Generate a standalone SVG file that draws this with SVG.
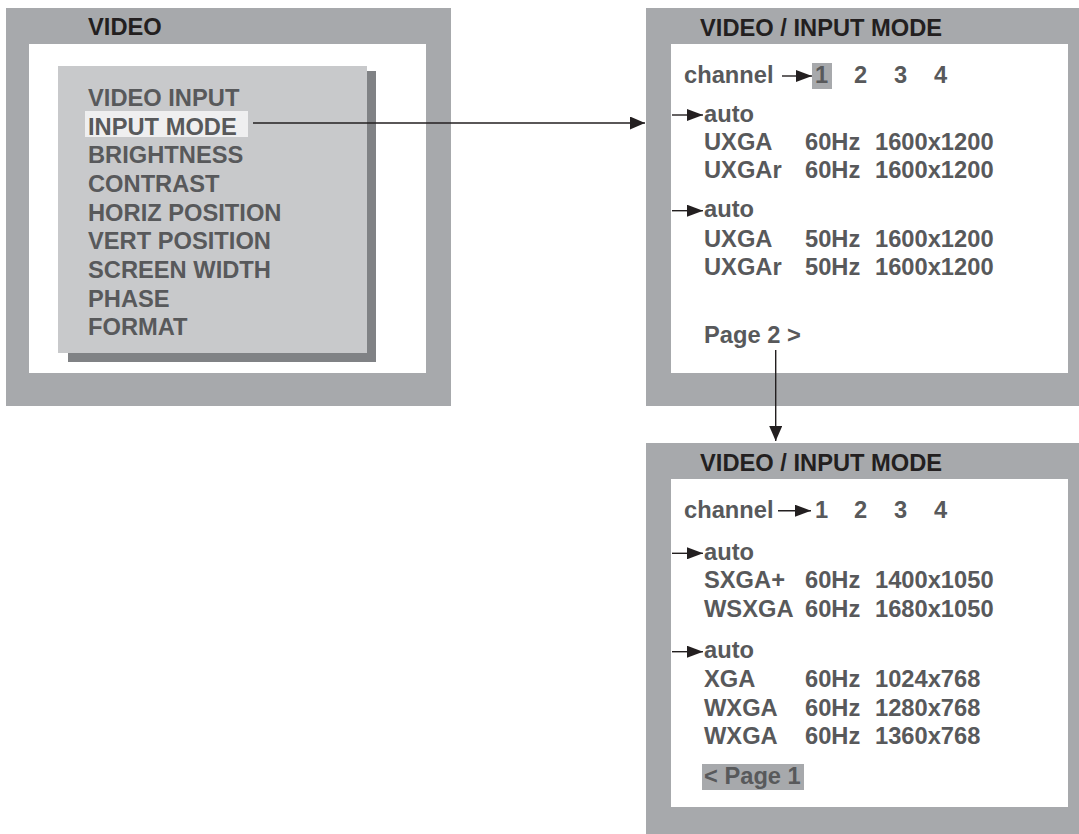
<svg xmlns="http://www.w3.org/2000/svg" width="1079" height="834" viewBox="0 0 1079 834">
<style>
text{font-family:"Liberation Sans",Arial,sans-serif;font-weight:bold;font-size:23.7px;fill:#58595b}
.title{fill:#231f20}
.frame{fill:#a7a9ac}
.screen{fill:#ffffff}
.conn{stroke:#231f20;stroke-width:1.4;fill:none}
.sm{stroke:#231f20;stroke-width:1.4;fill:none}
</style>
<defs>
<marker id="ah" markerWidth="15" markerHeight="13" refX="15" refY="6.5" orient="auto" markerUnits="userSpaceOnUse"><path d="M0,0 L15,6.5 L0,13 z" fill="#231f20"/></marker>
<marker id="as" markerWidth="16" markerHeight="12" refX="16" refY="6" orient="auto" markerUnits="userSpaceOnUse"><path d="M0,0 L16,6 L0,12 z" fill="#231f20"/></marker>
</defs>
<rect width="1079" height="834" fill="#ffffff"/>

<g id="video-menu">
<rect class="frame" x="6" y="8" width="445" height="398"/>
<rect class="screen" x="29" y="44" width="397" height="329"/>
<text class="title" x="88" y="35">VIDEO</text>
<rect x="68" y="71" width="308" height="291" fill="#808285"/>
<rect x="58" y="66" width="309" height="287" fill="#c8c9cb"/>
<rect x="85" y="111" width="163" height="26" fill="#efeff0"/>
<text x="88" y="106">VIDEO INPUT</text>
<text x="88" y="134.7">INPUT MODE</text>
<text x="88" y="163.4">BRIGHTNESS</text>
<text x="88" y="192">CONTRAST</text>
<text x="88" y="220.7">HORIZ POSITION</text>
<text x="88" y="249.4">VERT POSITION</text>
<text x="88" y="278">SCREEN WIDTH</text>
<text x="88" y="306.7">PHASE</text>
<text x="88" y="335.4">FORMAT</text>
</g>

<g id="input-mode-page1">
<rect class="frame" x="646" y="8" width="433" height="398"/>
<rect class="screen" x="671" y="44" width="397" height="329"/>
<text class="title" x="700" y="35.5">VIDEO / INPUT MODE</text>
<rect x="812" y="63" width="20" height="26" fill="#a7a9ac"/>
<text x="684" y="82.7">channel</text>
<line class="sm" x1="782" y1="76" x2="812" y2="76" marker-end="url(#as)"/>
<text x="815" y="82.7">1</text>
<text x="854" y="82.7">2</text>
<text x="894" y="82.7">3</text>
<text x="934" y="82.7">4</text>
<line class="sm" x1="672" y1="115" x2="703" y2="115" marker-end="url(#as)"/>
<text x="704" y="121.7">auto</text>
<text x="704" y="150">UXGA</text><text x="805" y="150">60Hz</text><text x="875" y="150">1600x1200</text>
<text x="704" y="178.3">UXGAr</text><text x="805" y="178.3">60Hz</text><text x="875" y="178.3">1600x1200</text>
<line class="sm" x1="672" y1="210.7" x2="703" y2="210.7" marker-end="url(#as)"/>
<text x="704" y="217.3">auto</text>
<text x="704" y="246.7">UXGA</text><text x="805" y="246.7">50Hz</text><text x="875" y="246.7">1600x1200</text>
<text x="704" y="275">UXGAr</text><text x="805" y="275">50Hz</text><text x="875" y="275">1600x1200</text>
<text x="704" y="343.3">Page 2 &gt;</text>
</g>

<g id="input-mode-page2">
<rect class="frame" x="646" y="443" width="433" height="391"/>
<rect class="screen" x="671" y="479" width="397" height="328"/>
<text class="title" x="700" y="470.7">VIDEO / INPUT MODE</text>
<text x="684" y="518.3">channel</text>
<line class="sm" x1="778" y1="510.7" x2="811" y2="510.7" marker-end="url(#as)"/>
<text x="815" y="518.3">1</text>
<text x="854" y="518.3">2</text>
<text x="894" y="518.3">3</text>
<text x="934" y="518.3">4</text>
<line class="sm" x1="672" y1="553.3" x2="703" y2="553.3" marker-end="url(#as)"/>
<text x="704" y="560">auto</text>
<text x="704" y="588.3">SXGA+</text><text x="805" y="588.3">60Hz</text><text x="875" y="588.3">1400x1050</text>
<text x="704" y="616.7">WSXGA</text><text x="805" y="616.7">60Hz</text><text x="875" y="616.7">1680x1050</text>
<line class="sm" x1="672" y1="651.7" x2="703" y2="651.7" marker-end="url(#as)"/>
<text x="704" y="658.3">auto</text>
<text x="704" y="687.3">XGA</text><text x="805" y="687.3">60Hz</text><text x="875" y="687.3">1024x768</text>
<text x="704" y="715.7">WXGA</text><text x="805" y="715.7">60Hz</text><text x="875" y="715.7">1280x768</text>
<text x="704" y="744">WXGA</text><text x="805" y="744">60Hz</text><text x="875" y="744">1360x768</text>
<rect x="702" y="764" width="102" height="26" fill="#a7a9ac"/>
<text x="704" y="784">&lt; Page 1</text>
</g>

<g id="connectors">
<line class="conn" x1="253" y1="123" x2="645" y2="123" marker-end="url(#ah)"/>
<line class="conn" x1="775.7" y1="350" x2="775.7" y2="441" marker-end="url(#ah)"/>
</g>
</svg>
